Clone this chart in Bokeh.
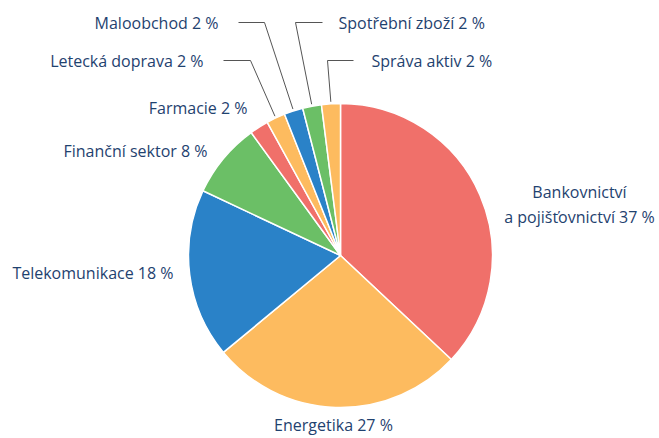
import math
from bokeh.plotting import figure
from bokeh.models import Range1d, ColumnDataSource
from bokeh.embed import file_html
from bokeh.resources import INLINE
from bokeh.core.properties import value

# ---- data ----
sectors = ["Bankovnictví\na pojišťovnictví", "Energetika", "Telekomunikace", "Finanční sektor",
           "Farmacie", "Letecká doprava", "Maloobchod", "Spotřební zboží", "Správa aktiv"]
shares = [37, 27, 18, 8, 2, 2, 2, 2, 2]
colors = ["#F0706A", "#FDBB5F", "#2A82C8", "#6BBF66", "#F0706A", "#FDBB5F", "#2A82C8", "#6BBF66", "#FDBB5F"]

# ---- layout (page pixel coordinates) ----
W, H = 655, 436
def Y(py):
    return H - py

cx, cy, R = 340, Y(255), 152
label_pos = [(579, 204, "center"), (333, 424, "center"), (173, 272, "right"), (207, 150, "right"),
             (247, 107, "right"), (203, 60, "right"), (218, 22, "right"), (338, 22, "left"), (371, 60, "left")]
elbows = {5: ((250, 60), (223, 60)), 6: ((264, 22), (238, 22)),
          7: ((295, 22), (322, 22)), 8: ((327, 60), (353, 60))}

total = float(sum(shares))
starts, ends, mids = [], [], []
cum = 0.0
for s in shares:
    a0 = math.pi / 2 - 2 * math.pi * cum / total
    cum += s
    a1 = math.pi / 2 - 2 * math.pi * cum / total
    starts.append(a0); ends.append(a1); mids.append((a0 + a1) / 2)

p = figure(width=W, height=H, output_backend="svg", toolbar_location=None,
           x_range=Range1d(0, W), y_range=Range1d(0, H),
           min_border=0, outline_line_color=None)
p.axis.visible = False
p.grid.visible = False
p.background_fill_color = "white"

src = ColumnDataSource(dict(x=[cx] * len(shares), y=[cy] * len(shares), s=starts, e=ends, c=colors))
p.wedge(x="x", y="y", radius=R, start_angle="s", end_angle="e", direction="clock",
        fill_color="c", line_color="white", line_width=1.5, source=src)

# leader lines
for i, (elb, end) in elbows.items():
    ax = cx + (R + 2) * math.cos(mids[i])
    ay = cy + (R + 2) * math.sin(mids[i])
    p.line([ax, elb[0], end[0]], [ay, Y(elb[1]), Y(end[1])], line_color="#555555", line_width=1)

texts = [f"{n} {v} %" for n, v in zip(sectors, shares)]
for (lx, ly, al), t in zip(label_pos, texts):
    p.text(x=[lx], y=[Y(ly)], text=[t], text_align=al, text_baseline="middle",
           text_font=value("Open Sans"), text_font_size="16px", text_color="#1F426F",
           text_line_height=1.1)

open("out.html", "w").write(file_html(p, INLINE))
